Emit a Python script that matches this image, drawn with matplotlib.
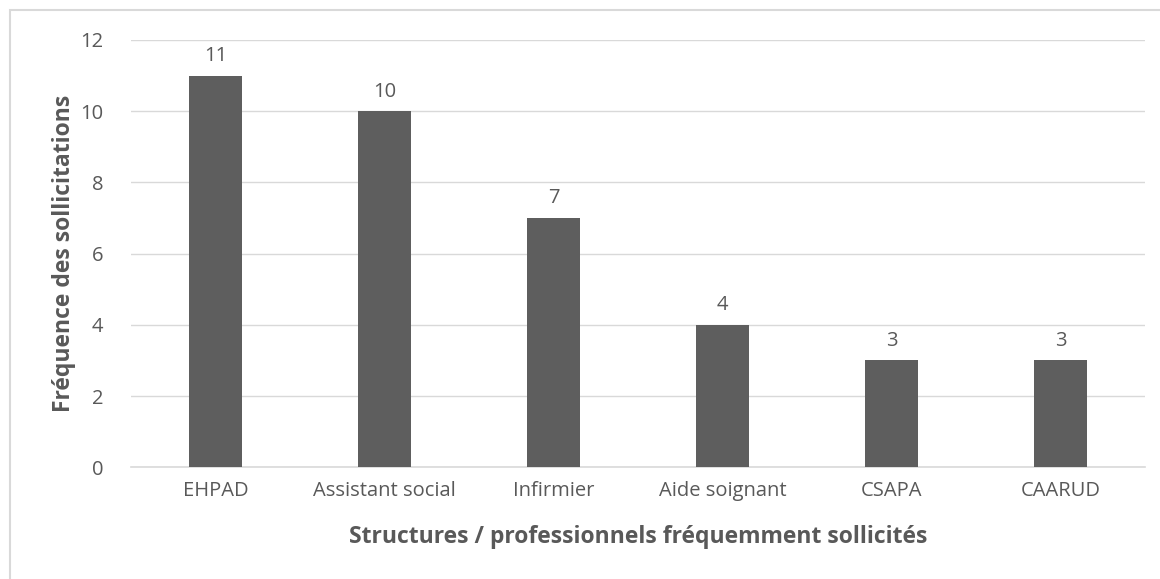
import matplotlib.pyplot as plt
from matplotlib.patches import Rectangle

categories = ['EHPAD', 'Assistant social', 'Infirmier', 'Aide soignant', 'CSAPA', 'CAARUD']
values = [11, 10, 7, 4, 3, 3]
y_ticks = [0, 2, 4, 6, 8, 10, 12]

text_color = '#595959'
bar_color = '#5e5e5e'
grid_color = '#d9d9d9'

plt.rcParams['font.family'] = ['Open Sans', 'DejaVu Sans']

fig = plt.figure(figsize=(11.6, 5.79), dpi=100)
ax = fig.add_axes([0.113, 0.193, 0.874, 0.738])

x = list(range(len(categories)))
ax.bar(x, values, width=0.31, color=bar_color, zorder=3)

for xi, v in zip(x, values):
    ax.text(xi, v + 0.27, str(v), ha='center', va='bottom', fontsize=14.5, color=text_color)

ax.set_xlim(-0.5, len(categories) - 0.5)
ax.set_ylim(0, 12)
ax.set_yticks(y_ticks)
ax.set_xticks(x)
ax.set_xticklabels(categories)
ax.tick_params(axis='both', length=0, labelsize=14.5, colors=text_color)
ax.tick_params(axis='y', pad=20)
ax.tick_params(axis='x', pad=10)

ax.grid(axis='y', color=grid_color, linewidth=1, zorder=0)
for side in ['top', 'right', 'left']:
    ax.spines[side].set_visible(False)
ax.spines['bottom'].set_color(grid_color)
ax.spines['bottom'].set_linewidth(1.2)

ax.set_xlabel('Structures / professionnels fréquemment sollicités', fontsize=16.5,
              fontweight='bold', color=text_color, labelpad=17)
ax.set_ylabel('Fréquence des sollicitations', fontsize=16.5, fontweight='bold',
              color=text_color, labelpad=3)

fig.patches.append(Rectangle((10 / 1160, -0.1), 1.2, 1 - 10 / 579 + 0.1,
                             transform=fig.transFigure, fill=False,
                             edgecolor='#d9d9d9', linewidth=1.5))

plt.savefig('out.png', dpi=100)
